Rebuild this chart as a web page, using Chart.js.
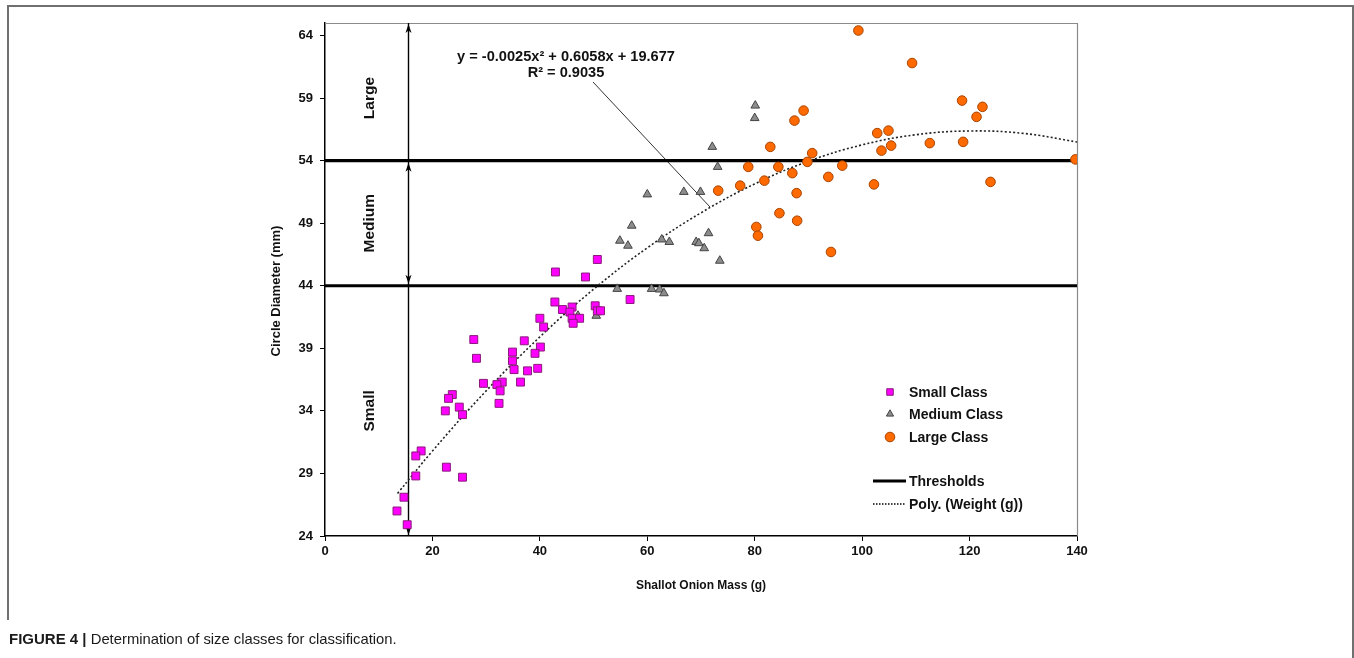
<!DOCTYPE html>
<html><head><meta charset="utf-8">
<script src="https://cdn.jsdelivr.net/npm/chart.js@4/dist/chart.umd.min.js"></script>
<style>html,body{margin:0;padding:0;background:#fff;overflow:hidden}canvas{display:block}</style>
</head><body>
<canvas id="c" width="1354" height="658"></canvas>
<script>
// ---- data ----
const smallMass = [50.7,42.9,48.5,56.8,42.8,44.2,46.0,45.6,46.0,47.4,46.2,50.3,50.7,51.3,40.0,40.7,37.1,40.1,34.9,39.1,34.9,27.7,28.2,35.2,37.7,39.6,29.5,33.0,32.0,32.6,36.4,32.4,23.7,23.0,25.0,22.4,25.6,17.9,16.9,16.9,22.6,25.6,14.7,13.4,15.3];
const smallDiam = [46.1,45.1,44.7,42.9,42.7,42.1,42.3,41.9,41.4,41.4,41.0,42.4,42.0,42.0,41.4,40.7,39.6,39.1,38.7,38.6,38.0,39.7,38.2,37.3,37.2,37.4,36.2,36.3,36.1,35.6,36.3,34.6,35.3,35.0,34.3,34.0,33.7,30.8,30.4,28.8,29.5,28.7,27.1,26.0,24.9];
const mediumMass = [72.1,73.1,80.1,80.0,60.0,66.8,69.9,57.1,54.9,56.4,62.7,64.1,71.4,69.1,69.6,70.6,73.5,54.4,60.8,62.3,63.1,47.1,50.5];
const mediumDiam = [55.1,53.5,58.4,57.4,51.3,51.5,51.5,48.8,47.6,47.2,47.7,47.5,48.2,47.5,47.4,47.0,46.0,43.75,43.75,43.7,43.4,41.6,41.6];
const largeMass = [99.3,109.3,118.6,122.4,121.3,89.1,87.4,82.9,102.8,104.9,105.4,103.6,112.6,118.8,139.7,90.7,89.8,96.3,84.4,78.8,87.0,81.8,93.7,73.2,77.3,87.8,102.2,123.9,84.6,87.9,80.3,80.6,94.2];
const largeDiam = [64.4,61.8,58.8,58.3,57.5,58.0,57.2,55.1,56.2,56.4,55.2,54.8,55.4,55.5,54.1,54.6,53.9,53.6,53.5,53.5,53.0,52.4,52.7,51.6,52.0,51.4,52.1,52.3,49.8,49.2,48.7,48.0,46.7];
// dotted polynomial trendline, sampled from the plotted curve
const trendMass = [13.5,20,30,40,50,60,70,80,90,100,110,120,130,140];
const trendDiam = [27.4,30.79,35.6,39.91,43.72,47.03,49.83,52.14,53.95,55.26,56.07,56.37,56.18,55.49];
// class thresholds and class boundaries
const thresholds = [44, 54];
const classBounds = [24, 44, 54, 65];
const classNames = ['Small', 'Medium', 'Large'];
const arrowMass = 15.5;
// axis ticks
const xTicks = [0,20,40,60,80,100,120,140];
const yTicks = [24,29,34,39,44,49,54,59,64];
const seriesNames = ['Small Class','Medium Class','Large Class','Thresholds','Poly. (Weight (g))'];
const equationText = ['y = -0.0025x\u00B2 + 0.6058x + 19.677', 'R\u00B2 = 0.9035'];

const zip = (a,b) => a.map((v,i)=>({x:v,y:b[i]}));
const FONT = '"Liberation Sans", Arial, sans-serif';

const STY = {
  small:{pointStyle:'rect', radius:5.6, bg:'#ff00ff', bd:'#8a1a7a'},
  medium:{pointStyle:'triangle', radius:5, bg:'#8c8c8c', bd:'#444444'},
  large:{pointStyle:'circle', radius:4.8, bg:'#ff6a00', bd:'#a84400'}
};

const datasets = [
  {label:seriesNames[0], data:zip(smallMass,smallDiam), pointStyle:STY.small.pointStyle, pointRadius:STY.small.radius, backgroundColor:STY.small.bg, borderColor:STY.small.bd, borderWidth:1, order:1},
  {label:seriesNames[1], data:zip(mediumMass,mediumDiam), pointStyle:STY.medium.pointStyle, pointRadius:STY.medium.radius, backgroundColor:STY.medium.bg, borderColor:STY.medium.bd, borderWidth:1, order:2},
  {label:seriesNames[2], data:zip(largeMass,largeDiam), pointStyle:STY.large.pointStyle, pointRadius:STY.large.radius, backgroundColor:STY.large.bg, borderColor:STY.large.bd, borderWidth:1, order:0},
  {label:seriesNames[4], type:'line', data:zip(trendMass,trendDiam), showLine:true, borderColor:'#222', borderWidth:1.6, borderDash:[2,2.2], pointRadius:0, tension:0.4, fill:false, order:5},
];
thresholds.forEach((t,i)=>{
  datasets.push({label:seriesNames[3], type:'line', data:[{x:xTicks[0],y:t},{x:xTicks[xTicks.length-1],y:t}], showLine:true, borderColor:'#000', borderWidth:3.2, pointRadius:0, fill:false, order:10});
});

function arrowHead(ctx, x, y, dir){ // dir -1 up, +1 down; tip at (x,y)
  ctx.beginPath();
  ctx.moveTo(x, y);
  ctx.lineTo(x-3, y - dir*9);
  ctx.lineTo(x, y - dir*6.5);
  ctx.lineTo(x+3, y - dir*9);
  ctx.closePath();
  ctx.fill();
}

const annot = {
  id:'annot',
  beforeDatasetsDraw(chart){
    const {ctx, chartArea:a, scales:{x,y}} = chart;
    ctx.save();
    // plot area outer border (top/right)
    ctx.strokeStyle='#8a8a8a'; ctx.lineWidth=1.2;
    ctx.beginPath(); ctx.moveTo(a.left, a.top+0.5); ctx.lineTo(a.right+0.5, a.top+0.5); ctx.lineTo(a.right+0.5, a.bottom); ctx.stroke();
    // class labels (rotated)
    ctx.fillStyle='#111'; ctx.font='bold 15.5px '+FONT; ctx.textAlign='center'; ctx.textBaseline='middle';
    const lblX = x.getPixelForValue(8.4);
    const lblY = [34, 49, 59];
    classNames.forEach((n,i)=>{
      const yc = y.getPixelForValue(lblY[i]);
      ctx.save(); ctx.translate(lblX, yc); ctx.rotate(-Math.PI/2); ctx.fillText(n,0,0); ctx.restore();
    });
    // vertical arrows
    const ax = Math.round(x.getPixelForValue(arrowMass))+0.5;
    ctx.strokeStyle='#000'; ctx.fillStyle='#000'; ctx.lineWidth=1.4;
    ctx.beginPath(); ctx.moveTo(ax, y.getPixelForValue(classBounds[0])); ctx.lineTo(ax, y.getPixelForValue(classBounds[3])); ctx.stroke();
    arrowHead(ctx, ax, y.getPixelForValue(classBounds[3])+1, -1);
    arrowHead(ctx, ax, y.getPixelForValue(classBounds[2])+2, -1);
    arrowHead(ctx, ax, y.getPixelForValue(classBounds[1])-2, 1);
    arrowHead(ctx, ax, y.getPixelForValue(classBounds[0])-1, 1);
    // equation + leader line
    ctx.font='bold 14.6px '+FONT; ctx.fillStyle='#111';
    ctx.fillText(equationText[0], 566, 57);
    ctx.fillText(equationText[1], 566, 73);
    ctx.strokeStyle='#333'; ctx.lineWidth=1;
    ctx.beginPath(); ctx.moveTo(593, 82); ctx.lineTo(710, 207); ctx.stroke();
    ctx.restore();
  },
  afterDraw(chart){
    const {ctx, chartArea:a} = chart;
    ctx.save();
    // figure frame
    ctx.strokeStyle='#707070'; ctx.lineWidth=2;
    ctx.beginPath(); ctx.moveTo(8,620); ctx.lineTo(8,6); ctx.lineTo(1353,6); ctx.lineTo(1353,658); ctx.stroke();
    // axis titles
    ctx.fillStyle='#111'; ctx.textAlign='center'; ctx.textBaseline='middle';
    ctx.font='bold 12px '+FONT;
    ctx.fillText('Shallot Onion Mass (g)', (a.left+a.right)/2, 586);
    ctx.font='bold 13px '+FONT;
    ctx.save(); ctx.translate(276, 291); ctx.rotate(-Math.PI/2);
    ctx.fillText('Circle Diameter (mm)', 0, 0); ctx.restore();
    // legend
    const lx = 890, tx = 909;
    const rows = [392, 414, 437];
    const st = [STY.small, STY.medium, STY.large];
    const lr = [4.6, 4.2, 4.8];
    ctx.textAlign='left'; ctx.font='bold 14px '+FONT;
    rows.forEach((ry,i)=>{
      ctx.fillStyle=st[i].bg; ctx.strokeStyle=st[i].bd; ctx.lineWidth=1;
      Chart.helpers.drawPoint(ctx, {pointStyle:st[i].pointStyle, rotation:0, borderWidth:1, radius:lr[i]}, lx, ry);
      ctx.fillStyle='#111'; ctx.fillText(seriesNames[i], tx, ry+1);
    });
    ctx.strokeStyle='#000'; ctx.lineWidth=3;
    ctx.beginPath(); ctx.moveTo(873, 481); ctx.lineTo(906, 481); ctx.stroke();
    ctx.fillText(seriesNames[3], tx, 482);
    ctx.lineWidth=1.4; ctx.setLineDash([1.5,1.5]);
    ctx.beginPath(); ctx.moveTo(873, 504); ctx.lineTo(906, 504); ctx.stroke();
    ctx.setLineDash([]);
    ctx.fillText(seriesNames[4], tx, 505);
    // caption
    ctx.textBaseline='middle';
    ctx.font='bold 15px '+FONT; ctx.fillStyle='#1a1a1a';
    const cap1='FIGURE 4 | ';
    ctx.fillText(cap1, 9, 640);
    const w = ctx.measureText(cap1).width;
    ctx.font='14.8px '+FONT;
    ctx.fillText('Determination of size classes for classification.', 9+w, 640);
    ctx.restore();
  }
};

new Chart(document.getElementById('c'), {
  type:'scatter',
  data:{datasets},
  options:{
    responsive:false, animation:false, devicePixelRatio:1,
    layout:{padding:{left:0, top:23, right:277, bottom:0}},
    plugins:{legend:{display:false}, tooltip:{enabled:false}},
    scales:{
      x:{type:'linear', min:xTicks[0], max:xTicks[xTicks.length-1],
         afterBuildTicks:(s)=>{s.ticks = xTicks.map(v=>({value:v}));},
         afterFit:(s)=>{s.height = 122;},
         grid:{display:true, drawOnChartArea:false, drawTicks:true, tickLength:5, color:'#000', lineWidth:1},
         border:{display:true, color:'#000', width:1.5},
         ticks:{color:'#111', font:{family:FONT, size:13, weight:'bold'}, padding:3, maxRotation:0}},
      y:{type:'linear', min:classBounds[0], max:classBounds[3],
         afterBuildTicks:(s)=>{s.ticks = yTicks.map(v=>({value:v}));},
         afterFit:(s)=>{s.width = 325;},
         grid:{display:true, drawOnChartArea:false, drawTicks:true, tickLength:5, color:'#000', lineWidth:1},
         border:{display:true, color:'#000', width:1.5},
         ticks:{color:'#111', font:{family:FONT, size:13, weight:'bold'}, padding:7}}
    }
  },
  plugins:[annot]
});
</script>
</body></html>
